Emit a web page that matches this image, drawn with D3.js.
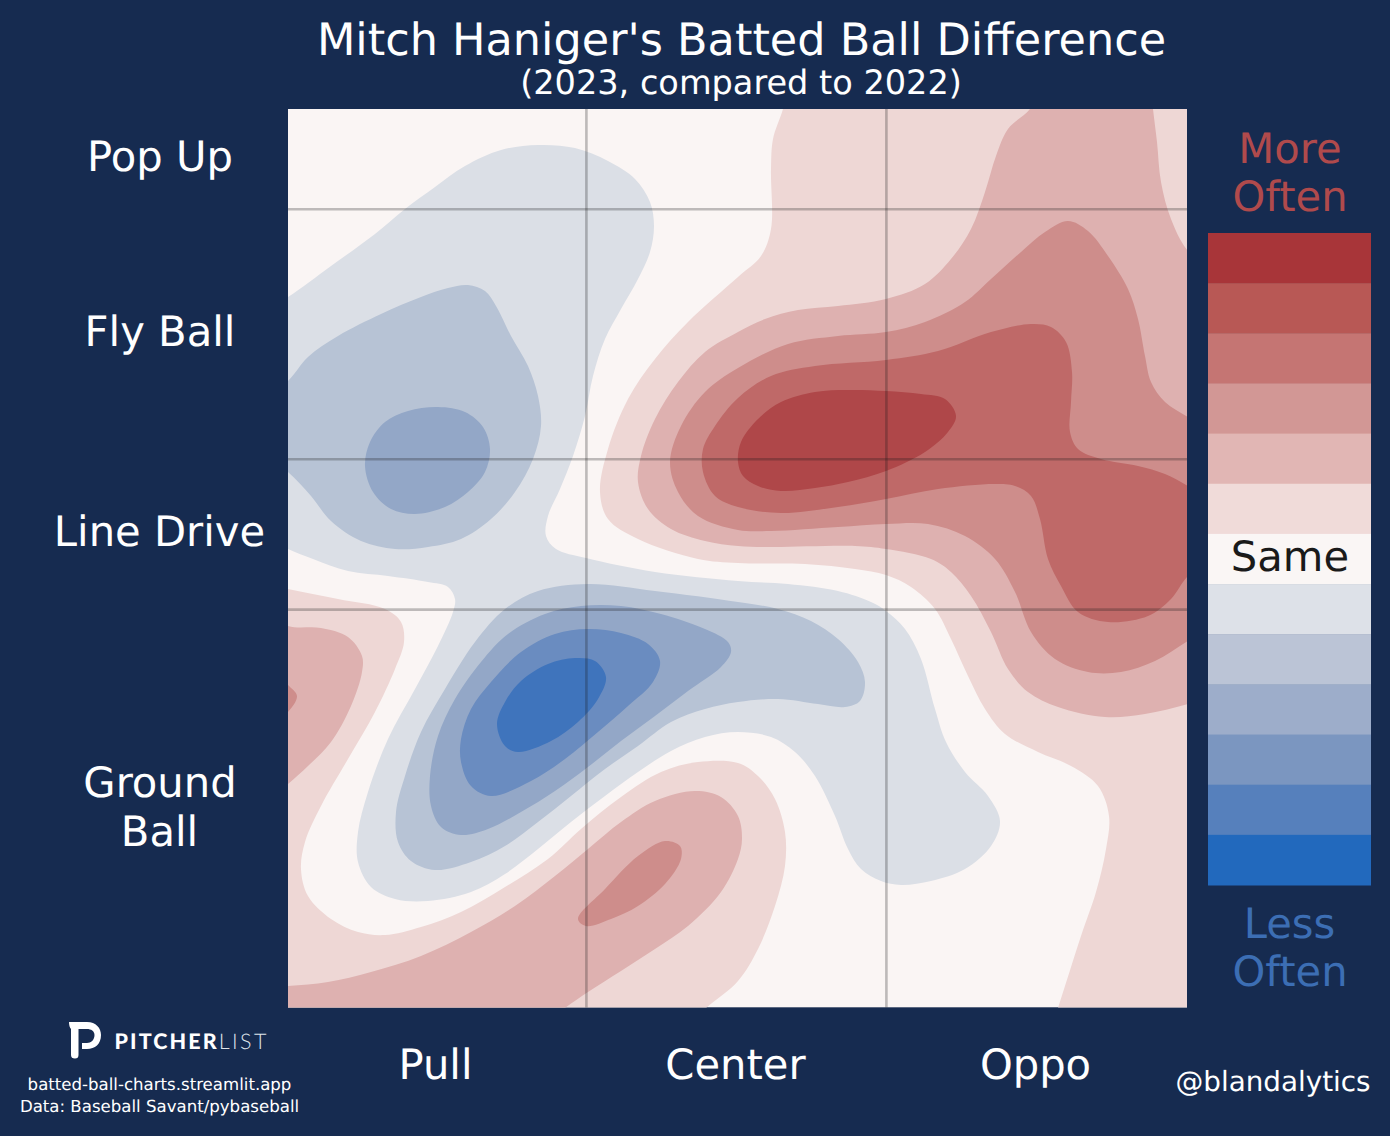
<!DOCTYPE html>
<html><head><meta charset="utf-8">
<script src="https://cdnjs.cloudflare.com/ajax/libs/d3/7.8.5/d3.min.js"></script>
<style>html,body{margin:0;padding:0;background:#162b50}svg{display:block}text{font-family:"DejaVu Sans",sans-serif;text-rendering:geometricPrecision}</style>
</head><body><svg id="c" width="1390" height="1136"></svg>
<script>
// Contour outlines, in grid units (0-900 across, 0-900 down)
const blue1 = [[0,188],[43,157],[87,125],[117,100],[147,78],[177,57],[213,41],[250,36],[287,39],[320,52],[347,70],[362,93],[366,117],[362,143],[350,170],[333,200],[317,230],[305,267],[297,307],[285,347],[272,380],[260,407],[258,427],[268,440],[298,449],[367,463],[450,472],[500,475],[550,482],[583,493],[598,502],[617,520],[633,550],[647,600],[658,633],[677,663],[700,687],[712,712],[703,737],[677,760],[643,772],[613,776],[593,772],[573,760],[560,740],[547,707],[527,667],[507,643],[483,628],[450,623],[417,628],[383,642],[350,663],[317,687],[283,713],[250,740],[217,765],[183,783],[140,792],[107,790],[83,778],[70,753],[70,723],[80,683],[100,630],[127,580],[150,537],[165,503],[167,490],[160,478],[140,473],[100,467],[60,462],[25,450],[0,440],[-30,425],[-30,205]];
const blue2a = [[0,272],[20,248],[50,227],[93,205],[133,188],[160,179],[180,176],[197,182],[208,197],[223,227],[240,257],[250,287],[253,317],[245,350],[227,383],[203,410],[173,430],[140,438],[107,440],[73,432],[43,412],[23,387],[0,363],[-30,340],[-30,295]];
const blue3a = [[77,357],[82,333],[97,313],[120,302],[150,298],[177,303],[195,318],[202,340],[197,363],[180,383],[157,398],[127,405],[103,400],[85,383]];
const blue2b = [[300,475],[367,482],[450,493],[490,500],[523,512],[550,530],[570,553],[577,573],[572,592],[557,598],[530,595],[490,590],[450,593],[417,600],[383,613],[350,637],[317,660],[283,687],[250,713],[217,737],[183,753],[147,761],[123,752],[110,733],[108,703],[117,667],[133,623],[157,580],[187,533],[217,500],[250,482]];
const blue3b = [[293,497],[333,497],[373,505],[417,520],[440,533],[443,543],[433,558],[400,582],[367,607],[333,632],[300,658],[267,682],[233,703],[200,720],[173,726],[153,718],[143,697],[142,667],[150,627],[167,590],[193,553],[220,525],[257,505]];
const blue4 = [[300,520],[333,524],[360,535],[372,552],[365,573],[340,597],[310,623],[277,650],[243,672],[203,687],[183,677],[173,653],[173,630],[183,600],[203,573],[233,543],[267,525]];
const blue5 = [[287,549],[307,552],[318,568],[310,590],[290,613],[263,632],[230,643],[217,637],[209,615],[217,593],[233,572],[260,555]];
const red1a = [[0,480],[50,490],[97,500],[113,513],[116,533],[107,560],[87,603],[60,650],[33,697],[17,733],[13,760],[20,787],[43,810],[70,823],[97,826],[133,818],[173,803],[217,778],[260,750],[293,720],[333,688],[373,663],[410,653],[450,654],[470,667],[487,690],[497,723],[497,757],[487,797],[470,840],[450,872],[417,900],[385,930],[-40,930],[-40,470]];
const red2a = [[0,517],[33,519],[60,528],[74,547],[74,563],[63,597],[43,633],[20,657],[0,675],[-30,700],[-30,500]];
const red3a = [[0,576],[9,587],[0,603],[-12,612],[-12,565]];
const red2b = [[0,877],[40,873],[83,863],[133,847],[183,823],[227,797],[267,767],[300,740],[333,713],[367,692],[407,682],[433,688],[450,707],[454,730],[450,750],[433,783],[400,817],[367,840],[333,862],[300,883],[277,899],[250,920],[-40,920],[-40,880]];
const red3b = [[290,810],[317,780],[350,747],[377,732],[392,737],[393,750],[377,775],[350,797],[323,810],[298,817]];
const red1b = [[495,0],[485,30],[483,60],[483,120],[473,147],[450,168],[400,213],[367,250],[340,290],[320,340],[312,383],[320,410],[350,430],[410,450],[450,454],[517,455],[567,460],[598,466],[623,478],[647,500],[663,530],[680,567],[697,600],[717,625],[750,643],[783,657],[810,677],[821,707],[818,740],[808,783],[793,827],[770,899],[758,935],[745,970],[940,970],[940,-40],[505,-40]];
const red2c = [[742,0],[720,20],[708,47],[697,83],[683,120],[663,150],[637,175],[598,190],[550,197],[510,201],[477,210],[450,223],[417,243],[390,273],[367,310],[353,347],[350,373],[360,400],[383,420],[417,432],[450,437],[483,438],[567,437],[598,440],[643,450],[663,463],[683,487],[703,523],[720,560],[740,583],[770,598],[817,608],[857,605],[900,595],[935,585],[935,170],[900,142],[883,110],[873,73],[869,33],[865,0],[862,-30],[760,-30]];
const red3c = [[780,112],[800,122],[820,147],[840,180],[850,210],[857,247],[863,273],[877,293],[900,308],[930,325],[930,515],[900,532],[867,552],[833,563],[800,563],[767,550],[743,523],[727,483],[707,450],[677,427],[640,415],[598,415],[550,418],[483,422],[450,421],[410,407],[390,383],[382,353],[393,317],[417,283],[450,259],[500,235],[550,227],[598,223],[637,213],[677,193],[703,170],[733,143],[757,123]];
const red4 = [[743,215],[763,218],[778,233],[784,263],[783,293],[782,323],[790,340],[813,350],[850,357],[877,365],[900,377],[930,395],[930,445],[900,467],[883,490],[860,507],[820,513],[790,503],[773,477],[760,450],[752,410],[743,387],[727,377],[707,375],[650,380],[598,390],[550,398],[493,404],[450,398],[427,387],[415,363],[415,340],[427,317],[450,289],[483,267],[527,257],[598,251],[650,242],[703,223]];
const red5 = [[450,353],[453,333],[470,310],[493,293],[527,283],[560,281],[598,282],[633,285],[657,290],[668,307],[660,323],[637,343],[598,362],[560,373],[527,379],[493,382],[470,377],[455,367]];

// Bands in paint order: contour level + outline
const bands = [[-1,blue1],[-2,blue2a],[-3,blue3a],[-2,blue2b],[-3,blue3b],[-4,blue4],[-5,blue5],
  [1,red1a],[2,red2a],[3,red3a],[2,red2b],[3,red3b],[1,red1b],[2,red2c],[3,red3c],[4,red4],[5,red5]];

const plotLevels = [-5,-4,-3,-2,-1,0,1,2,3,4,5];
const plotColors = ["#3f74bc","#6a8cc0","#93a7c7","#b7c3d5","#dbdfe6","#faf5f4","#eed7d5","#deb1b0","#ce8d8b","#bf6968","#af4749"];
const legendLevels = [6,5,4,3,2,1,0,-1,-2,-3,-4,-5,-6];
const legendColors = ["#a83539","#b85855","#c57573","#d29795","#e1b6b4","#f0dbd9","#faf6f5","#dde1e8","#bbc4d6","#9dadca","#7b96c0","#5680bc","#2269bd"];
const gridX = [298.4,598.4];
const gridY = [100.2,350.3,500.6];
const xLabels = ["Pull","Center","Oppo"];
const xLabelPos = [150,450,750];

const svg = d3.select("#c");
svg.append("rect").attr("width",1390).attr("height",1136).attr("fill","#162b50");
const x = d3.scaleLinear().domain([0,900]).range([288,1188]);
const y = d3.scaleLinear().domain([0,900]).range([109,1009]);
const color = d3.scaleOrdinal().domain(plotLevels).range(plotColors);
const W = 899, H = 898.6;

svg.append("clipPath").attr("id","plot").append("rect")
  .attr("x",x(0)).attr("y",y(0)).attr("width",W).attr("height",H);
const g = svg.append("g").attr("clip-path","url(#plot)");
g.append("rect").attr("x",x(0)).attr("y",y(0)).attr("width",W).attr("height",H).attr("fill",color(0));
const line = d3.line().x(d=>x(d[0])).y(d=>y(d[1])).curve(d3.curveCatmullRomClosed.alpha(0.5));
g.selectAll("path.band").data(bands).join("path").attr("class","band")
  .attr("d",d=>line(d[1])).attr("fill",d=>color(d[0]));
g.selectAll("line.gx").data(gridX).join("line").attr("class","gx")
  .attr("x1",d=>x(d)).attr("x2",d=>x(d)).attr("y1",y(0)).attr("y2",y(900))
  .attr("stroke","#1a1a1a").attr("stroke-opacity",0.27).attr("stroke-width",2.6);
g.selectAll("line.gy").data(gridY).join("line").attr("class","gy")
  .attr("y1",d=>y(d)).attr("y2",d=>y(d)).attr("x1",x(0)).attr("x2",x(900))
  .attr("stroke","#1a1a1a").attr("stroke-opacity",0.27).attr("stroke-width",2.6);

// Colour bar
const legendY = d3.scaleBand().domain(legendLevels).range([233,885]);
const legendColor = d3.scaleOrdinal().domain(legendLevels).range(legendColors);
svg.selectAll("rect.leg").data(legendLevels).join("rect").attr("class","leg")
  .attr("x",1208).attr("width",163).attr("y",d=>legendY(d)).attr("height",legendY.bandwidth()+0.5)
  .attr("fill",d=>legendColor(d));

function label(t,px,py,size,fill,anchor){
  return svg.append("text").text(t).attr("x",px).attr("y",py).attr("font-size",size)
    .attr("fill",fill).attr("text-anchor",anchor||"middle");
}
label("Mitch Haniger's Batted Ball Difference",741.5,55,44.55,"#fff");
label("(2023, compared to 2022)",741,94.4,33.55,"#fff");
label("Pop Up",160,171,41.7,"#fff");
label("Fly Ball",160,346,41.7,"#fff");
label("Line Drive",159.5,546,41.7,"#fff");
label("Ground",160,797,41.7,"#fff");
label("Ball",159.5,846,41.7,"#fff");
xLabels.forEach((t,i)=>label(t,x(xLabelPos[i])-2.5,1078.6,41.7,"#fff"));
label("More",1290,162.5,41.7,"#b04a4c");
label("Often",1290,211,41.7,"#b04a4c");
label("Same",1290,571,41.7,"#1a1a1a");
label("Less",1289.5,937.6,41.7,"#3c6eb4");
label("Often",1290,986,41.7,"#3c6eb4");
label("@blandalytics",1273,1091,27.8,"#fff");
label("batted-ball-charts.streamlit.app",159.5,1090,16.6,"#fff");
label("Data: Baseball Savant/pybaseball",159.5,1112,16.6,"#fff");

// Pitcher List wordmark
svg.append("path").attr("fill","#fff").attr("d",
 "M69,1022 L87,1022 C96,1022 101,1028 101,1035 C101,1044 95,1049 87,1049 L82,1049 L82,1043 L87,1043 C91,1043 94.5,1040 94.5,1035 C94.5,1031 91,1029 87,1029 L78.5,1029 L78.5,1055 Q78.5,1058.5 75,1058.5 Q71,1058.5 71,1055 L71,1029 Q69,1027 69,1022 Z");
const mark = svg.append("text").attr("x",114.5).attr("y",1049).attr("font-size",21.5).attr("fill","#fff")
  .style("font-family","Lato, sans-serif");
mark.append("tspan").text("PITCHER").attr("font-weight",900).attr("letter-spacing",2.1);
mark.append("tspan").text("LIST").attr("font-weight",300).attr("letter-spacing",2.4).attr("fill","#dfe3ea");
</script></body></html>
